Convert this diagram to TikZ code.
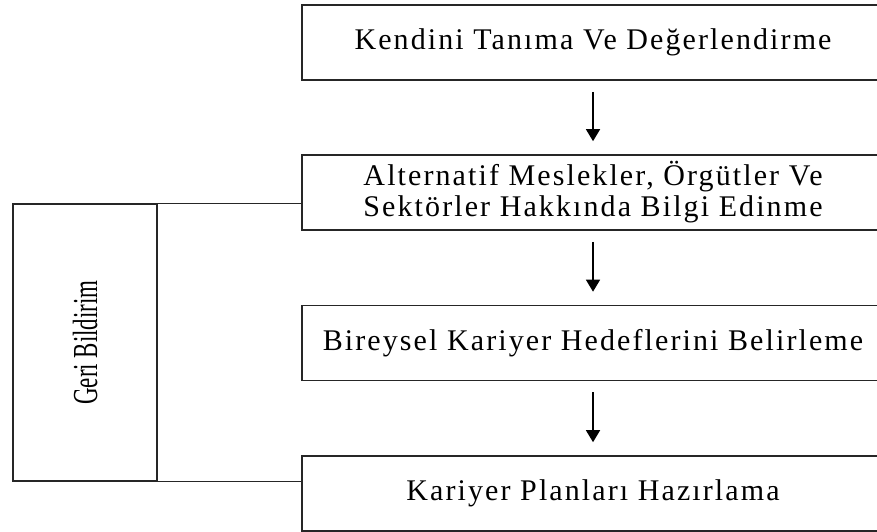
\documentclass[tikz,border=0pt]{standalone}
\usepackage{fontspec}
\usepackage{graphicx}
\setmainfont{Liberation Serif}[LetterSpace=7]
\newfontfamily\gerifont{Liberation Serif}
\usetikzlibrary{arrows.meta}
\newcommand{\boxfont}{\fontsize{30}{31}\selectfont}

\begin{document}
\begin{tikzpicture}[x=1pt, y=-1pt,
    stepbox/.style={draw=black!85, line width=1.6pt, minimum width=582pt, minimum height=75pt, align=center, inner sep=0pt, font=\boxfont},
    fbbox/.style={draw=black!85, line width=1.4pt, minimum width=144pt, minimum height=277pt, inner sep=0pt},
    arr/.style={-{Triangle[width=14pt,length=12pt]}, line width=1.4pt, shorten <=11pt, shorten >=13pt}]
    \useasboundingbox (0,0) rectangle (877,532);

    \node[stepbox] (k1) at (593, 42.5) {Kendini Tanıma Ve Değerlendirme};
    \node[stepbox] (k2) at (593, 192.5) {Alternatif Meslekler, Örgütler Ve\\Sektörler Hakkında Bilgi Edinme};
    \node[stepbox] (k3) at (593, 343) {Bireysel Kariyer Hedeflerini Belirleme};
    \node[stepbox] (k4) at (593, 493.5) {Kariyer Planları Hazırlama};
    \node[fbbox] (geri) at (85, 342.5) {\rotatebox{90}{\gerifont\fontsize{27}{29}\selectfont\scalebox{0.85}[1.3]{Geri Bildirim}}};

    \draw[arr] (k1) edge (k2) ;
    \draw[arr] (k2) edge (k3) ;
    \draw[arr] (k3) edge (k4) ;

    % geri bildirim baglantilari
    \draw[draw=black!85, line width=1.4pt] (geri.north east) -- (geri.north east -| k2.west) ;
    \draw[draw=black!85, line width=1.4pt] (geri.south east) -- (geri.south east -| k4.west) ;
\end{tikzpicture}
\end{document}
